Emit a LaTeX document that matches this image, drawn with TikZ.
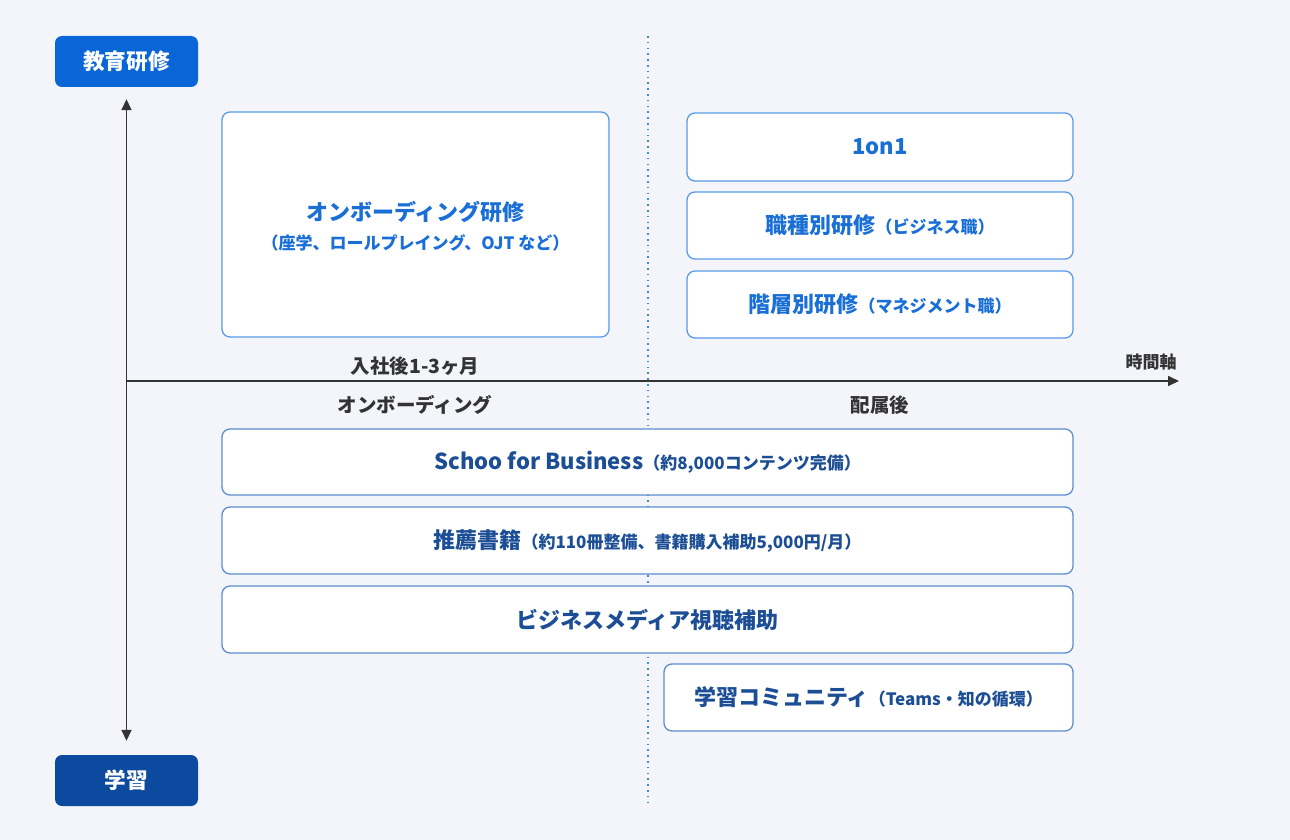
\documentclass[tikz,border=0pt]{standalone}
\usepackage{fontspec}
\setmainfont{Noto Sans CJK JP}
\usetikzlibrary{arrows.meta}
\definecolor{bgc}{HTML}{F3F5FB}
\definecolor{topfill}{HTML}{0A66D6}
\definecolor{botfill}{HTML}{0B4A9E}
\definecolor{uptext}{HTML}{1A6FD6}
\definecolor{lowtext}{HTML}{1C4E96}
\definecolor{upborder}{HTML}{5A9BE6}
\definecolor{lowborder}{HTML}{5C8ED0}
\definecolor{axisc}{HTML}{333333}
\definecolor{dotc}{HTML}{3D8BE0}
\newcommand{\hsz}{\fontsize{22}{26}\selectfont\bfseries}
\newcommand{\ssz}{\fontsize{17}{20}\selectfont\bfseries}
\newcommand{\lsz}{\fontsize{19.5}{22}\selectfont\bfseries}
\begin{document}
\begin{tikzpicture}[x=1pt,y=-1pt,
  catbox/.style={rectangle, rounded corners=7pt, minimum width=143pt, minimum height=51pt, text=white, font=\fontsize{21.7}{24}\selectfont\bfseries, inner sep=0pt},
  upbox/.style={rectangle, rounded corners=8pt, draw=upborder, line width=1.3pt, fill=white, text=uptext, align=center, inner sep=0pt},
  lowbox/.style={rectangle, rounded corners=8pt, draw=lowborder, line width=1.3pt, fill=white, text=lowtext, align=center, inner sep=0pt},
  uptextnode/.style={text=uptext, inner sep=0pt},
  axislabel/.style={text=axisc, font=\lsz, inner sep=0pt},
  axisline/.style={draw=axisc, line width=1.6pt},
  divider/.style={draw=dotc, line width=1.6pt, dash pattern=on 1.6pt off 4.2pt}
]
\fill[bgc] (0,0) rectangle (1290,840);
\useasboundingbox (0,0) rectangle (1290,840);

% divider
\coordinate (dtop) at (648,36);
\coordinate (dbot) at (648,802);
\draw[divider] (dtop) -- (dbot);

% category boxes
\node[catbox, fill=topfill] (edu) at (126.5,61.5) {教育研修};
\node[catbox, fill=botfill] (learn) at (126.5,780.5) {学習};

% axes
\draw[axisline, {Triangle[length=11pt,width=10pt]}-{Triangle[length=11pt,width=10pt]}, shorten <=12pt, shorten >=14pt] (edu.south) -- (learn.north);
\coordinate (origin) at (126,381);
\coordinate (tend) at (1179,381);
\draw[axisline, -{Triangle[length=11pt,width=10pt]}] (origin) -- (tend);

% upper boxes
\node[upbox, minimum width=387pt, minimum height=225pt] (onb) at (415.5,224.5) {};
\node[uptextnode, font=\hsz] (onbt) at (415.5,212) {オンボーディング研修};
\node[uptextnode, font=\ssz] (onbs) at (415.5,243) {（座学、ロールプレイング、OJT など）};
\node[upbox, minimum width=386pt, minimum height=68pt] (oneon) at (880,147) {\hsz 1on1};
\node[upbox, minimum width=386pt, minimum height=67pt] (shoku) at (880,225.5) {\hsz 職種別研修\ssz （ビジネス職）};
\node[upbox, minimum width=386pt, minimum height=67pt] (kaiso) at (880,304.5) {\hsz 階層別研修\ssz （マネジメント職）};

% axis labels
\node[axislabel] (nyusha) at (415,366) {入社後1-3ヶ月};
\node[axislabel] (onbl) at (415,405) {オンボーディング};
\node[axislabel] (haizoku) at (880,405) {配属後};
\node[axislabel, font=\fontsize{17}{20}\selectfont\bfseries] (jikan) at (1151,362) {時間軸};

% lower boxes
\node[lowbox, minimum width=851pt, minimum height=66pt] (schoo) at (647.5,462) {\hsz Schoo for Business\ssz （約8,000コンテンツ完備）};
\node[lowbox, minimum width=851pt, minimum height=67pt] (books) at (647.5,540.5) {\hsz 推薦書籍\ssz （約110冊整備、書籍購入補助5,000円/月）};
\node[lowbox, minimum width=851pt, minimum height=67pt] (media) at (647.5,619.5) {\hsz ビジネスメディア視聴補助};
\node[lowbox, minimum width=409pt, minimum height=67pt] (comm) at (868.5,697.5) {\hsz 学習コミュニティ\ssz （Teams・知の循環）};
\end{tikzpicture}
\end{document}
